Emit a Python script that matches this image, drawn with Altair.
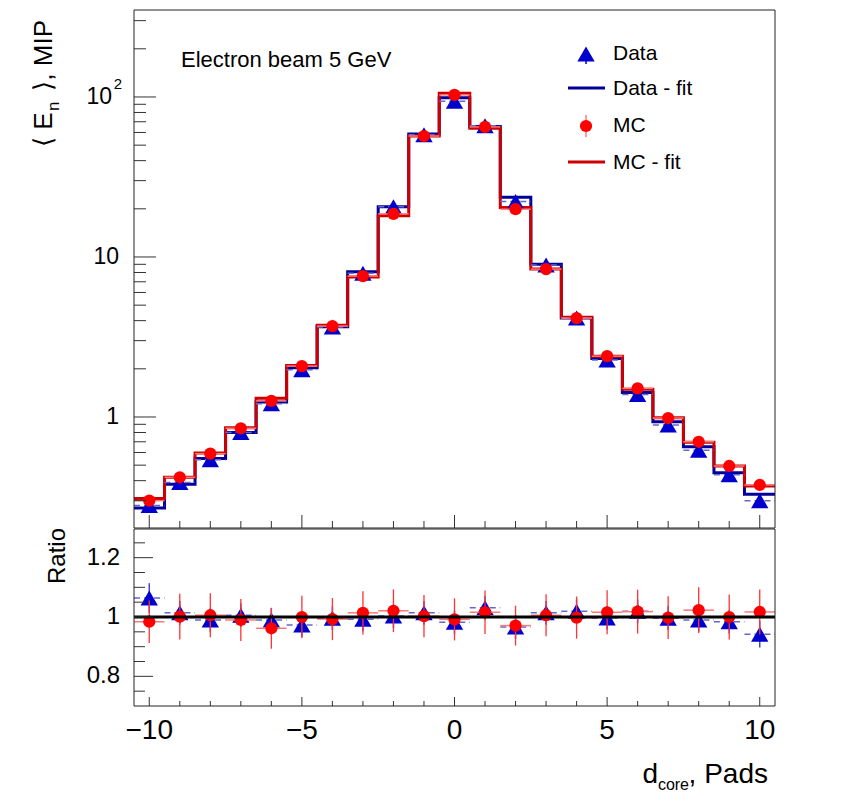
import altair as alt
import pandas as pd

FONT = "Liberation Sans"

# ---------------- data ----------------
centers = list(range(-10, 11))
data_vals = [0.28, 0.39, 0.54, 0.80, 1.21, 1.97, 3.65, 7.9, 20.6, 58.0, 94.0, 66.0,
             22.2, 8.9, 4.15, 2.27, 1.38, 0.89, 0.62, 0.435, 0.30]
data_fit = [0.27, 0.38, 0.55, 0.80, 1.24, 2.03, 3.67, 8.1, 20.6, 58.6, 99.0, 65.3,
            23.6, 9.0, 4.15, 2.32, 1.42, 0.935, 0.652, 0.449, 0.329]
mc_vals = [0.30, 0.42, 0.59, 0.85, 1.26, 2.08, 3.70, 7.6, 18.6, 57.0, 103.0, 65.0,
           19.9, 8.4, 4.15, 2.40, 1.51, 0.985, 0.70, 0.494, 0.376]
mc_fit = [0.31, 0.42, 0.595, 0.857, 1.31, 2.10, 3.75, 7.5, 18.1, 57.0, 105.5, 63.7,
          20.4, 8.4, 4.2, 2.40, 1.49, 0.99, 0.695, 0.494, 0.37]

ratio_data = [1.064, 1.014, 0.99, 1.006, 0.99, 0.973, 0.996, 0.992, 1.003, 1.014, 0.982,
              1.031, 0.966, 1.014, 1.019, 0.997, 1.019, 0.996, 0.99, 0.984, 0.942]
ratio_data_err = [0.05, 0.04, 0.04, 0.04, 0.04, 0.04, 0.04, 0.04, 0.04, 0.04, 0.04,
                  0.04, 0.04, 0.04, 0.04, 0.04, 0.04, 0.04, 0.04, 0.04, 0.045]
ratio_mc = [0.984, 1.001, 1.006, 0.99, 0.962, 1.0, 0.993, 1.014, 1.021, 1.003, 0.992,
            1.016, 0.971, 1.006, 0.998, 1.016, 1.018, 0.998, 1.023, 1.0, 1.017]
ratio_mc_err = [0.072, 0.077, 0.074, 0.071, 0.069, 0.072, 0.071, 0.073, 0.072, 0.071, 0.071,
                0.073, 0.067, 0.071, 0.071, 0.074, 0.074, 0.072, 0.077, 0.076, 0.076]
ratio_ref = [1.0]

x_minor_ticks = [v for v in range(-10, 11) if v % 5 != 0]
x_major_ticks = [-10, -5, 0, 5, 10]
x_tick_labels = ["\u221210", "\u22125", "0", "5", "10"]
y_major_ticks = [1, 10, 100]
y_minor_ticks = [0.3, 0.4, 0.5, 0.6, 0.7, 0.8, 0.9, 2, 3, 4, 5, 6, 7, 8, 9,
                 20, 30, 40, 50, 60, 70, 80, 90, 200, 300]
r_major_ticks = [0.8, 1.0, 1.2]
r_major_labels = ["0.8", "1", "1.2"]
r_minor_ticks = [0.75, 0.85, 0.9, 0.95, 1.05, 1.1, 1.15, 1.25]

# ---------------- layout ----------------
W = 641
TOP_H = 518
RAT_TOP = 518
RAT_BOT = 696
H = RAT_BOT

xs = alt.Scale(domain=[-10.5, 10.5], range=[0, W], nice=False, zero=False)
ys_top = alt.Scale(type="log", domain=[0.2024, 349.6], range=[TOP_H, 0], nice=False)
ys_rat = alt.Scale(domain=[0.7, 1.3], range=[RAT_BOT, RAT_TOP], nice=False, zero=False)

BLUE_M = "#0000cc"
BLUE_L = "#000099"
RED_M = "#ff0000"
RED_L = "#cc0000"

df = pd.DataFrame({
    "c": centers, "data": data_vals, "mc": mc_vals,
    "rd": ratio_data, "rde": ratio_data_err, "rm": ratio_mc, "rme": ratio_mc_err,
})
df["lo"] = df["c"] - 0.5
df["hi"] = df["c"] + 0.5
df["rd_lo"] = df["rd"] - df["rde"]
df["rd_hi"] = df["rd"] + df["rde"]
df["rm_lo"] = df["rm"] - df["rme"]
df["rm_hi"] = df["rm"] + df["rme"]

edges = [c - 0.5 for c in centers] + [centers[-1] + 0.5]
step = pd.DataFrame({"e": edges, "dfit": data_fit + [data_fit[-1]], "mfit": mc_fit + [mc_fit[-1]]})

one = pd.DataFrame({"k": [0]})


def X(f):
    return alt.X(f, scale=xs, axis=None)


def YT(f):
    return alt.Y(f, scale=ys_top, axis=None)


def YR(f):
    return alt.Y(f, scale=ys_rat, axis=None)


def txt(text, x, y, size, align="left", baseline="middle", angle=0, color="black"):
    kw = dict(text=text, fontSize=size, font=FONT, align=align, baseline=baseline, color=color)
    if angle:
        kw["angle"] = angle
    return alt.Chart(one).mark_text(**kw).encode(x=alt.value(x), y=alt.value(y))


base = alt.Chart(df)
TICK = "#333333"

# ---------------- top panel ----------------
top_layers = [
    alt.Chart(step).mark_line(interpolate="step-after", color=BLUE_L, strokeWidth=3).encode(
        x=X("e:Q"), y=YT("dfit:Q")),
    alt.Chart(step).mark_line(interpolate="step-after", color=RED_L, strokeWidth=3).encode(
        x=X("e:Q"), y=YT("mfit:Q")),
    base.mark_rule(color="#6666cc", strokeDash=[6, 4], strokeWidth=1.5).encode(
        x=X("lo:Q"), x2="hi:Q", y=YT("data:Q")),
    base.mark_point(shape="triangle-up", filled=True, size=300, color=BLUE_M, opacity=1).encode(
        x=X("c:Q"), y=YT("data:Q")),
    base.mark_rule(color="#ff7777", strokeWidth=1.5).encode(
        x=X("lo:Q"), x2="hi:Q", y=YT("mc:Q")),
    base.mark_point(shape="circle", filled=True, size=150, color=RED_M, opacity=1).encode(
        x=X("c:Q"), y=YT("mc:Q")),
    # y ticks
    alt.Chart(pd.DataFrame({"v": y_major_ticks})).mark_rule(color=TICK, strokeWidth=1).encode(
        x=alt.value(0), x2=alt.value(22), y=YT("v:Q")),
    alt.Chart(pd.DataFrame({"v": y_minor_ticks})).mark_rule(color=TICK, strokeWidth=1).encode(
        x=alt.value(0), x2=alt.value(12), y=YT("v:Q")),
    # x ticks at the bottom of the top panel
    alt.Chart(pd.DataFrame({"v": x_major_ticks})).mark_rule(color=TICK, strokeWidth=1).encode(
        x=X("v:Q"), y=alt.value(TOP_H), y2=alt.value(TOP_H - 13)),
    alt.Chart(pd.DataFrame({"v": x_minor_ticks})).mark_rule(color=TICK, strokeWidth=1).encode(
        x=X("v:Q"), y=alt.value(TOP_H), y2=alt.value(TOP_H - 7)),
    # y labels
    alt.Chart(pd.DataFrame({"v": y_major_ticks[:2], "t": ["1", "10"]})).mark_text(
        font=FONT, fontSize=23, align="right", baseline="middle").encode(
        x=alt.value(-15), y=YT("v:Q"), text="t:N"),
    alt.Chart(pd.DataFrame({"v": y_major_ticks[2:], "t": ["10"]})).mark_text(
        font=FONT, fontSize=23, align="right", baseline="middle").encode(
        x=alt.value(-22), y=YT("v:Q"), text="t:N"),
    alt.Chart(pd.DataFrame({"v": y_major_ticks[2:], "t": ["2"]})).mark_text(
        font=FONT, fontSize=15, align="right", baseline="middle", dy=-13).encode(
        x=alt.value(-12), y=YT("v:Q"), text="t:N"),
]
top = alt.layer(*top_layers)

# ---------------- ratio panel ----------------
rat_layers = [
    base.mark_rule(color="#4444cc", strokeWidth=1.5).encode(
        x=X("c:Q"), y=YR("rd_lo:Q"), y2="rd_hi:Q"),
    base.mark_rule(color="#6666cc", strokeDash=[6, 4], strokeWidth=1.5).encode(
        x=X("lo:Q"), x2="hi:Q", y=YR("rd:Q")),
    base.mark_point(shape="triangle-up", filled=True, size=300, color=BLUE_M, opacity=1).encode(
        x=X("c:Q"), y=YR("rd:Q")),
    base.mark_rule(color="#ff3333", strokeWidth=1.3).encode(
        x=X("c:Q"), y=YR("rm_lo:Q"), y2="rm_hi:Q"),
    base.mark_rule(color="#ff7777", strokeWidth=1.5).encode(
        x=X("lo:Q"), x2="hi:Q", y=YR("rm:Q")),
    base.mark_point(shape="circle", filled=True, size=150, color=RED_M, opacity=1).encode(
        x=X("c:Q"), y=YR("rm:Q")),
    alt.Chart(pd.DataFrame({"v": ratio_ref})).mark_rule(color="black", strokeWidth=3).encode(
        x=alt.value(0), x2=alt.value(W), y=YR("v:Q")),
    alt.Chart(pd.DataFrame({"v": r_major_ticks})).mark_rule(color=TICK, strokeWidth=1).encode(
        x=alt.value(0), x2=alt.value(19), y=YR("v:Q")),
    alt.Chart(pd.DataFrame({"v": r_minor_ticks})).mark_rule(color=TICK, strokeWidth=1).encode(
        x=alt.value(0), x2=alt.value(11), y=YR("v:Q")),
    alt.Chart(pd.DataFrame({"v": x_major_ticks})).mark_rule(color=TICK, strokeWidth=1).encode(
        x=X("v:Q"), y=alt.value(RAT_BOT), y2=alt.value(RAT_BOT - 9)),
    alt.Chart(pd.DataFrame({"v": x_minor_ticks})).mark_rule(color=TICK, strokeWidth=1).encode(
        x=X("v:Q"), y=alt.value(RAT_BOT), y2=alt.value(RAT_BOT - 5)),
    alt.Chart(pd.DataFrame({"v": r_major_ticks, "t": r_major_labels})).mark_text(
        font=FONT, fontSize=24, align="right", baseline="middle").encode(
        x=alt.value(-14), y=YR("v:Q"), text="t:N"),
    alt.Chart(pd.DataFrame({"v": x_major_ticks, "t": x_tick_labels})).mark_text(
        font=FONT, fontSize=28, align="center", baseline="middle").encode(
        x=X("v:Q"), y=alt.value(721), text="t:N"),
]
rat = alt.layer(*rat_layers)

# ---------------- frames, texts, legend ----------------
frame_top = alt.Chart(one).mark_rect(fillOpacity=0, stroke="#222222", strokeWidth=1).encode(
    x=alt.value(0), x2=alt.value(W), y=alt.value(0), y2=alt.value(TOP_H))
frame_rat = alt.Chart(one).mark_rect(fillOpacity=0, stroke="#222222", strokeWidth=1).encode(
    x=alt.value(0), x2=alt.value(W), y=alt.value(RAT_TOP + 1), y2=alt.value(RAT_BOT))

annot = [
    txt("Electron beam 5 GeV", 47, 50, 22),
    # legend
    alt.Chart(one).mark_point(shape="triangle-up", filled=True, size=300, color=BLUE_M, opacity=1).encode(
        x=alt.value(452), y=alt.value(44)),
    alt.Chart(one).mark_rule(color=BLUE_M, strokeWidth=1.5).encode(
        x=alt.value(452), y=alt.value(44), y2=alt.value(54)),
    txt("Data", 479, 44, 21),
    alt.Chart(one).mark_rule(color=BLUE_L, strokeWidth=3).encode(
        x=alt.value(434), x2=alt.value(471), y=alt.value(78)),
    txt("Data - fit", 479, 79, 21),
    alt.Chart(one).mark_rule(color="#ff7777", strokeWidth=1.5).encode(
        x=alt.value(452), y=alt.value(105), y2=alt.value(127)),
    alt.Chart(one).mark_point(shape="circle", filled=True, size=150, color=RED_M, opacity=1).encode(
        x=alt.value(452), y=alt.value(116)),
    txt("MC", 479, 116, 21),
    alt.Chart(one).mark_rule(color=RED_L, strokeWidth=3).encode(
        x=alt.value(434), x2=alt.value(471), y=alt.value(152)),
    txt("MC - fit", 479, 153, 21),
    # y title (rotated)
    txt("\u27e8 E", -82, 137, 26, align="left", baseline="alphabetic", angle=270),
    txt("n", -75, 101, 17, align="left", baseline="alphabetic", angle=270),
    txt(" \u27e9, MIP", -82, 10, 26, align="right", baseline="alphabetic", angle=270),
    # ratio title
    txt("Ratio", -69, 518, 24, align="right", baseline="alphabetic", angle=270),
    # x title
    txt(", Pads", 634, 773, 28, align="right", baseline="alphabetic"),
    txt("core", 555, 780, 16, align="right", baseline="alphabetic"),
    txt("d", 524, 773, 28, align="right", baseline="alphabetic"),
]

chart = alt.layer(top, rat, frame_top, frame_rat, *annot).resolve_scale(y="independent").properties(
    width=W, height=H,
    autosize=alt.AutoSizeParams(type="none"),
    padding={"left": 126, "top": 2, "right": 63, "bottom": 88},
    background="white",
).configure_view(stroke="transparent")

chart.save("out.html", embed_options={"renderer": "svg", "actions": False})
